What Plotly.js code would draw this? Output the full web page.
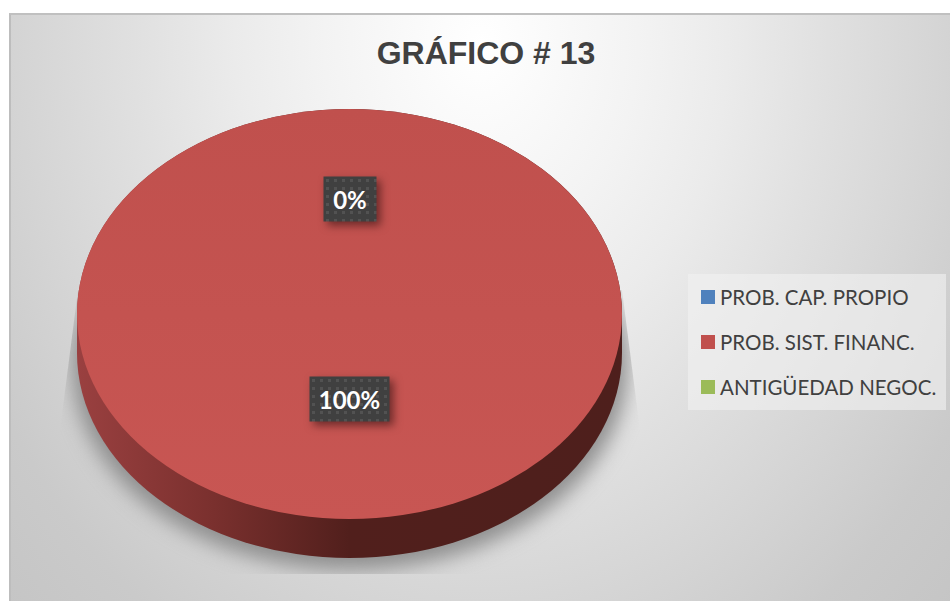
<!DOCTYPE html>
<html>
<head>
<meta charset="utf-8">
<script src="https://cdn.plot.ly/plotly-3.0.1.min.js"></script>
<style>
  html, body { margin: 0; padding: 0; background: #fff; }
  #fondo {
    position: absolute; left: 9px; top: 13px; width: 941px; height: 588px;
    border-top: 2px solid #c0c0c0; border-left: 2px solid #bdbdbd; box-sizing: border-box;
    background: radial-gradient(ellipse 560px 700px at 470px 30px, #ffffff 0%, #f3f3f3 28%, #ebebeb 44%, #e0e0e0 62%, #d4d4d4 83%, #cacaca 100%, #c4c4c4 120%);
  }
  #sombraClip {
    position: absolute; left: 0; top: 0; width: 950px; height: 601px;
    clip-path: polygon(78px 290px, 622px 290px, 640px 430px, 640px 574px, 60px 574px, 60px 430px);
  }
  #sombra {
    position: absolute; left: 72px; top: 158px; width: 556px; height: 412px;
    border-radius: 50%; background: #8e8e8e; filter: blur(10px);
  }
  #canto {
    position: absolute; left: 77px; top: 109px; width: 545px; height: 449px;
    border-radius: 272.5px / 205px;
    background: linear-gradient(to right, #9a4040 0%, #7a302e 25%, #511f1c 50%, #4e1f1c 100%);
  }
  #grafico { position: absolute; left: 0; top: 0; width: 950px; height: 601px; }
</style>
</head>
<body>
<div id="fondo"></div>
<div id="sombraClip"><div id="sombra"></div></div>
<div id="canto"></div>
<div id="grafico"></div>
<script>
// Datos del grafico
var categorias = ['PROB. CAP. PROPIO', 'PROB. SIST. FINANC.', 'ANTIGÜEDAD NEGOC.'];
var valores = [0, 100, 0];
var colores = ['#4f81bd', '#c0504d', '#9bbb59'];

var total = 0;
for (let i = 0; i < valores.length; i++) {
  total += valores[i];
}

var W = 950, H = 601;
var cx = 349.5, cy = 314, rx = 272.5, ry = 205;

function etiqueta(valor, yPix, ancho) {
  return {
    text: '<b>' + Math.round(valor / total * 100) + '%</b>',
    xref: 'paper', yref: 'paper',
    x: cx / W, y: 1 - yPix / H,
    xanchor: 'center', yanchor: 'middle',
    showarrow: false,
    width: ancho, height: 42,
    bgcolor: '#404040',
    font: { family: 'Lato, sans-serif', size: 24, color: '#ffffff' }
  };
}

var dataPie = [{
  type: 'pie',
  labels: categorias,
  values: valores,
  marker: { colors: colores, line: { width: 0 } },
  textinfo: 'none',
  sort: false,
  direction: 'clockwise',
  hoverinfo: 'label+percent',
  domain: { x: [(cx - rx) / W, (cx + rx) / W], y: [1 - (cy + rx) / H, 1 - (cy - rx) / H] }
}];

var layoutPie = {
  width: W,
  height: H,
  margin: { l: 0, r: 0, t: 0, b: 0 },
  paper_bgcolor: 'rgba(0,0,0,0)',
  plot_bgcolor: 'rgba(0,0,0,0)',
  title: {
    text: '<b>GRÁFICO # 13</b>',
    font: { family: 'Liberation Sans, Arial, sans-serif', size: 32, color: '#404040' },
    x: 486 / W, xref: 'paper', xanchor: 'center',
    y: 1 - 53 / H, yref: 'paper', yanchor: 'middle'
  },
  showlegend: true,
  legend: {
    x: 688 / W, y: 1 - 274 / H,
    xanchor: 'left', yanchor: 'top',
    traceorder: 'normal',
    bgcolor: 'rgba(242,242,242,0.6)',
    font: { family: 'Lato, sans-serif', size: 20.5, color: '#404040' }
  },
  annotations: [
    etiqueta(valores[0], 199, 50),
    etiqueta(valores[1], 399, 77)
  ]
};

Plotly.newPlot('grafico', dataPie, layoutPie, { displayModeBar: false, staticPlot: true }).then(function () {
  var svg = document.querySelector('#grafico .main-svg');
  var ns = 'http://www.w3.org/2000/svg';
  var defs = document.createElementNS(ns, 'defs');
  svg.appendChild(defs);

  // el pastel en perspectiva: se aplasta en vertical
  document.querySelector('#grafico .pielayer').setAttribute('transform',
    'translate(0,' + cy + ') scale(1,' + (ry / rx) + ') translate(0,' + (-cy) + ')');

  // brillo suave de la cara superior
  var grad = document.createElementNS(ns, 'linearGradient');
  grad.setAttribute('id', 'cara');
  grad.setAttribute('x1', 0); grad.setAttribute('y1', 0);
  grad.setAttribute('x2', 0); grad.setAttribute('y2', 1);
  var s1 = document.createElementNS(ns, 'stop');
  s1.setAttribute('offset', '0%'); s1.setAttribute('stop-color', '#c0504d');
  var s2 = document.createElementNS(ns, 'stop');
  s2.setAttribute('offset', '100%'); s2.setAttribute('stop-color', '#c85653');
  grad.appendChild(s1); grad.appendChild(s2);
  defs.appendChild(grad);
  var rebanadas = document.querySelectorAll('#grafico .pielayer .surface');
  for (let i = 0; i < rebanadas.length; i++) {
    rebanadas[i].style.fill = 'url(#cara)';
  }

  // separacion de la leyenda (45 px entre filas)
  var leyenda = document.querySelector('#grafico .legend');
  var bg = leyenda.querySelector('.bg');
  bg.setAttribute('width', 258);
  bg.setAttribute('height', 136);
  bg.setAttribute('x', 0);
  bg.setAttribute('y', 0);
  var caja = leyenda.querySelector('.scrollbox');
  caja.removeAttribute('clip-path');
  caja.style.clipPath = 'none';
  var filas = leyenda.querySelectorAll('.traces');
  for (let i = 0; i < filas.length; i++) {
    filas[i].setAttribute('transform', 'translate(0,' + (23 + i * 45) + ')');
    filas[i].querySelector('.legendtext').setAttribute('x', 32);
    var marca = filas[i].querySelector('.legendpoints path');
    marca.setAttribute('d', 'M6,-7h14v14h-14z');
    marca.setAttribute('transform', 'translate(7,0)');
  }

  // trama de puntos y sombra de las etiquetas
  var patron = document.createElementNS(ns, 'pattern');
  patron.setAttribute('id', 'puntos');
  patron.setAttribute('width', 8);
  patron.setAttribute('height', 8);
  patron.setAttribute('patternUnits', 'userSpaceOnUse');
  var fondoP = document.createElementNS(ns, 'rect');
  fondoP.setAttribute('width', 8);
  fondoP.setAttribute('height', 8);
  fondoP.setAttribute('fill', '#404040');
  var punto = document.createElementNS(ns, 'rect');
  punto.setAttribute('x', 3);
  punto.setAttribute('y', 3);
  punto.setAttribute('width', 3);
  punto.setAttribute('height', 3);
  punto.setAttribute('fill', '#525252');
  patron.appendChild(fondoP);
  patron.appendChild(punto);
  defs.appendChild(patron);

  var anotaciones = document.querySelectorAll('#grafico .annotation');
  for (let i = 0; i < anotaciones.length; i++) {
    var r = anotaciones[i].querySelector('.bg');
    r.style.fill = 'url(#puntos)';
    r.style.filter = 'drop-shadow(4px 4px 4px rgba(60,20,20,0.65))';
  }
});
</script>
</body>
</html>
